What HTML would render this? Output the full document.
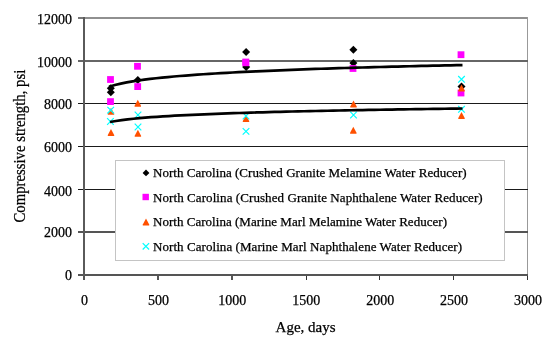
<!DOCTYPE html><html><head><meta charset="utf-8"><style>html,body{margin:0;padding:0;width:550px;height:338px;overflow:hidden;background:#fff;font-family:"Liberation Serif",serif}</style></head><body><svg width="550" height="338" viewBox="0 0 550 338" style="position:absolute;left:0;top:0;will-change:transform">
<rect width="550" height="338" fill="#fff"/>
<g shape-rendering="crispEdges">
<rect x="84" y="17" width="444" height="2" fill="#909090"/>
<rect x="527" y="17" width="1" height="258" fill="#999"/>
<rect x="78" y="60" width="450" height="2" fill="#666"/>
<rect x="78" y="103" width="450" height="1" fill="#1a1a1a"/>
<rect x="78" y="146" width="450" height="1" fill="#1a1a1a"/>
<rect x="78" y="189" width="450" height="1" fill="#1a1a1a"/>
<rect x="78" y="231" width="450" height="2" fill="#555"/>
<rect x="78" y="274" width="450" height="2" fill="#555"/>
<rect x="78" y="17" width="5" height="2" fill="#777"/>
<rect x="83" y="17" width="2" height="262" fill="#5a5a5a"/>
<rect x="157" y="276" width="2" height="4" fill="#555"/>
<rect x="231" y="276" width="2" height="4" fill="#555"/>
<rect x="306" y="276" width="1" height="4" fill="#333"/>
<rect x="379" y="276" width="1" height="4" fill="#333"/>
<rect x="453" y="276" width="1" height="4" fill="#333"/>
<rect x="527" y="276" width="1" height="4" fill="#333"/>
<rect x="83" y="276" width="2" height="4" fill="#555"/>
</g>
<path d="M110.8 84.3L114.8 88.3L110.8 92.3L106.8 88.3Z" fill="#000"/>
<path d="M110.8 88.2L114.8 92.2L110.8 96.2L106.8 92.2Z" fill="#000"/>
<path d="M137.8 76.0L141.8 80.0L137.8 84.0L133.8 80.0Z" fill="#000"/>
<path d="M246.1 48.0L250.1 52.0L246.1 56.0L242.1 52.0Z" fill="#000"/>
<path d="M246.2 63.0L250.2 67.0L246.2 71.0L242.2 67.0Z" fill="#000"/>
<path d="M353.4 45.8L357.4 49.8L353.4 53.8L349.4 49.8Z" fill="#000"/>
<path d="M353.4 59.0L357.4 63.0L353.4 67.0L349.4 63.0Z" fill="#000"/>
<path d="M461.5 82.5L465.5 86.5L461.5 90.5L457.5 86.5Z" fill="#000"/>
<rect x="107.1" y="76.1" width="6.8" height="6.8" fill="#f0f"/>
<rect x="107.1" y="98.2" width="6.8" height="6.8" fill="#f0f"/>
<rect x="134.1" y="62.9" width="6.8" height="6.8" fill="#f0f"/>
<rect x="134.3" y="83.2" width="6.8" height="6.8" fill="#f0f"/>
<rect x="242.4" y="58.6" width="6.8" height="6.8" fill="#f0f"/>
<rect x="242.4" y="59.4" width="6.8" height="6.8" fill="#f0f"/>
<rect x="349.6" y="65.1" width="6.8" height="6.8" fill="#f0f"/>
<rect x="457.6" y="51.3" width="6.8" height="6.8" fill="#f0f"/>
<rect x="457.6" y="89.6" width="6.8" height="6.8" fill="#f0f"/>
<path d="M111.0 107.8L114.2 113.8L114.2 114.8L107.8 114.8L107.8 113.8Z" fill="#ff5000"/>
<path d="M111.0 128.9L114.2 134.9L114.2 135.9L107.8 135.9L107.8 134.9Z" fill="#ff5000"/>
<path d="M137.8 99.7L141.0 105.7L141.0 106.7L134.6 106.7L134.6 105.7Z" fill="#ff5000"/>
<path d="M137.9 129.7L141.1 135.7L141.1 136.7L134.7 136.7L134.7 135.7Z" fill="#ff5000"/>
<path d="M246.0 115.0L249.2 121.0L249.2 122.0L242.8 122.0L242.8 121.0Z" fill="#ff5000"/>
<path d="M353.5 100.5L356.7 106.5L356.7 107.5L350.3 107.5L350.3 106.5Z" fill="#ff5000"/>
<path d="M353.3 126.8L356.5 132.8L356.5 133.8L350.1 133.8L350.1 132.8Z" fill="#ff5000"/>
<path d="M461.5 84.5L464.7 90.5L464.7 91.5L458.3 91.5L458.3 90.5Z" fill="#ff5000"/>
<path d="M461.5 111.9L464.7 117.9L464.7 118.9L458.3 118.9L458.3 117.9Z" fill="#ff5000"/>
<path d="M107.4 106.9L114.0 113.5M114.0 106.9L107.4 113.5" stroke="#00ffff" stroke-width="1.2" fill="none"/>
<path d="M107.1 118.2L113.7 124.8M113.7 118.2L107.1 124.8" stroke="#00ffff" stroke-width="1.2" fill="none"/>
<path d="M134.7 111.7L141.3 118.3M141.3 111.7L134.7 118.3" stroke="#00ffff" stroke-width="1.2" fill="none"/>
<path d="M134.7 123.7L141.3 130.3M141.3 123.7L134.7 130.3" stroke="#00ffff" stroke-width="1.2" fill="none"/>
<path d="M242.7 112.7L249.3 119.3M249.3 112.7L242.7 119.3" stroke="#00ffff" stroke-width="1.2" fill="none"/>
<path d="M242.7 128.1L249.3 134.7M249.3 128.1L242.7 134.7" stroke="#00ffff" stroke-width="1.2" fill="none"/>
<path d="M350.2 111.7L356.8 118.3M356.8 111.7L350.2 118.3" stroke="#00ffff" stroke-width="1.2" fill="none"/>
<path d="M458.2 76.0L464.8 82.6M464.8 76.0L458.2 82.6" stroke="#00ffff" stroke-width="1.2" fill="none"/>
<path d="M458.2 106.0L464.8 112.6M464.8 106.0L458.2 112.6" stroke="#00ffff" stroke-width="1.2" fill="none"/>
<polyline points="109.0,86.70 114.9,85.01 120.8,83.62 126.7,82.44 132.6,81.41 138.5,80.49 144.3,79.68 150.2,78.93 156.1,78.25 162.0,77.63 167.9,77.05 173.8,76.51 179.7,76.00 185.6,75.53 191.5,75.08 197.4,74.65 203.3,74.25 209.2,73.86 215.1,73.50 220.9,73.15 226.8,72.81 232.7,72.49 238.6,72.18 244.5,71.88 250.4,71.59 256.3,71.32 262.2,71.05 268.1,70.79 274.0,70.54 279.9,70.29 285.8,70.06 291.6,69.83 297.5,69.61 303.4,69.39 309.3,69.18 315.2,68.97 321.1,68.77 327.0,68.58 332.9,68.38 338.8,68.20 344.7,68.02 350.6,67.84 356.4,67.66 362.3,67.49 368.2,67.33 374.1,67.16 380.0,67.00 385.9,66.84 391.8,66.69 397.7,66.54 403.6,66.39 409.5,66.25 415.4,66.10 421.3,65.96 427.1,65.82 433.0,65.69 438.9,65.56 444.8,65.42 450.7,65.29 456.6,65.17 462.5,65.04" fill="none" stroke="#000" stroke-width="2.7" stroke-linejoin="round"/>
<polyline points="110.0,122.00 115.9,120.97 121.8,120.12 127.6,119.39 133.5,118.75 139.4,118.19 145.2,117.68 151.1,117.22 157.0,116.80 162.9,116.41 168.8,116.04 174.6,115.71 180.5,115.39 186.4,115.09 192.2,114.81 198.1,114.54 204.0,114.29 209.9,114.05 215.8,113.82 221.6,113.60 227.5,113.39 233.4,113.19 239.2,112.99 245.1,112.81 251.0,112.63 256.9,112.45 262.8,112.28 268.6,112.12 274.5,111.96 280.4,111.81 286.2,111.66 292.1,111.52 298.0,111.38 303.9,111.24 309.8,111.11 315.6,110.98 321.5,110.85 327.4,110.73 333.2,110.61 339.1,110.49 345.0,110.38 350.9,110.26 356.8,110.15 362.6,110.05 368.5,109.94 374.4,109.84 380.2,109.74 386.1,109.64 392.0,109.54 397.9,109.45 403.8,109.35 409.6,109.26 415.5,109.17 421.4,109.08 427.2,108.99 433.1,108.91 439.0,108.83 444.9,108.74 450.8,108.66 456.6,108.58 462.5,108.50" fill="none" stroke="#000" stroke-width="2.7" stroke-linejoin="round"/>
<rect x="115.5" y="160.5" width="389" height="100" fill="#fff" stroke="#c4c4c4" stroke-width="1"/>
<path d="M146.0 169.5L149.4 172.9L146.0 176.3L142.6 172.9Z" fill="#000"/>
<rect x="142.5" y="193.8" width="6.4" height="6.4" fill="#f0f"/>
<path d="M146.0 218.4L149.2 224.6L149.2 225.6L142.8 225.6L142.8 224.6Z" fill="#ff5000"/>
<path d="M142.7 243.1L149.1 249.5M149.1 243.1L142.7 249.5" stroke="#00ffff" stroke-width="1.2" fill="none"/>
<text x="153" y="176.9" font-family="Liberation Serif" fill="#000" stroke="#000" stroke-width="0.25" font-size="13" textLength="313.6" lengthAdjust="spacing">North Carolina (Crushed Granite Melamine Water Reducer)</text>
<text x="153" y="201.6" font-family="Liberation Serif" fill="#000" stroke="#000" stroke-width="0.25" font-size="13" textLength="329.7" lengthAdjust="spacing">North Carolina (Crushed Granite Naphthalene Water Reducer)</text>
<text x="153" y="226" font-family="Liberation Serif" fill="#000" stroke="#000" stroke-width="0.25" font-size="13" textLength="294.0" lengthAdjust="spacing">North Carolina (Marine Marl Melamine Water Reducer)</text>
<text x="153" y="250.5" font-family="Liberation Serif" fill="#000" stroke="#000" stroke-width="0.25" font-size="13" textLength="309.1" lengthAdjust="spacing">North Carolina (Marine Marl Naphthalene Water Reducer)</text>
<text x="72"  y="24.4" font-family="Liberation Serif" fill="#000" stroke="#000" stroke-width="0.25" font-size="14" text-anchor="end">12000</text>
<text x="72"  y="67.25" font-family="Liberation Serif" fill="#000" stroke="#000" stroke-width="0.25" font-size="14" text-anchor="end">10000</text>
<text x="72"  y="109.4" font-family="Liberation Serif" fill="#000" stroke="#000" stroke-width="0.25" font-size="14" text-anchor="end">8000</text>
<text x="72"  y="151.7" font-family="Liberation Serif" fill="#000" stroke="#000" stroke-width="0.25" font-size="14" text-anchor="end">6000</text>
<text x="72"  y="195.8" font-family="Liberation Serif" fill="#000" stroke="#000" stroke-width="0.25" font-size="14" text-anchor="end">4000</text>
<text x="72"  y="237.4" font-family="Liberation Serif" fill="#000" stroke="#000" stroke-width="0.25" font-size="14" text-anchor="end">2000</text>
<text x="72"  y="280.4" font-family="Liberation Serif" fill="#000" stroke="#000" stroke-width="0.25" font-size="14" text-anchor="end">0</text>
<text x="84.5" y="304.6" font-family="Liberation Serif" fill="#000" stroke="#000" stroke-width="0.25" font-size="14" text-anchor="middle">0</text>
<text x="158.4" y="304.6" font-family="Liberation Serif" fill="#000" stroke="#000" stroke-width="0.25" font-size="14" text-anchor="middle">500</text>
<text x="232.3" y="304.6" font-family="Liberation Serif" fill="#000" stroke="#000" stroke-width="0.25" font-size="14" text-anchor="middle">1000</text>
<text x="306.2" y="304.6" font-family="Liberation Serif" fill="#000" stroke="#000" stroke-width="0.25" font-size="14" text-anchor="middle">1500</text>
<text x="380.2" y="304.6" font-family="Liberation Serif" fill="#000" stroke="#000" stroke-width="0.25" font-size="14" text-anchor="middle">2000</text>
<text x="454.1" y="304.6" font-family="Liberation Serif" fill="#000" stroke="#000" stroke-width="0.25" font-size="14" text-anchor="middle">2500</text>
<text x="528.0" y="304.6" font-family="Liberation Serif" fill="#000" stroke="#000" stroke-width="0.25" font-size="14" text-anchor="middle">3000</text>
<text x="305.6" y="331.7" font-family="Liberation Serif" fill="#000" stroke="#000" stroke-width="0.25" font-size="15" text-anchor="middle">Age, days</text>
<text transform="translate(25,146.1) rotate(-90) scale(0.923,1)" font-family="Liberation Serif" fill="#000" stroke="#000" stroke-width="0.25" font-size="16" text-anchor="middle">Compressive strength, psi</text>
</svg></body></html>
